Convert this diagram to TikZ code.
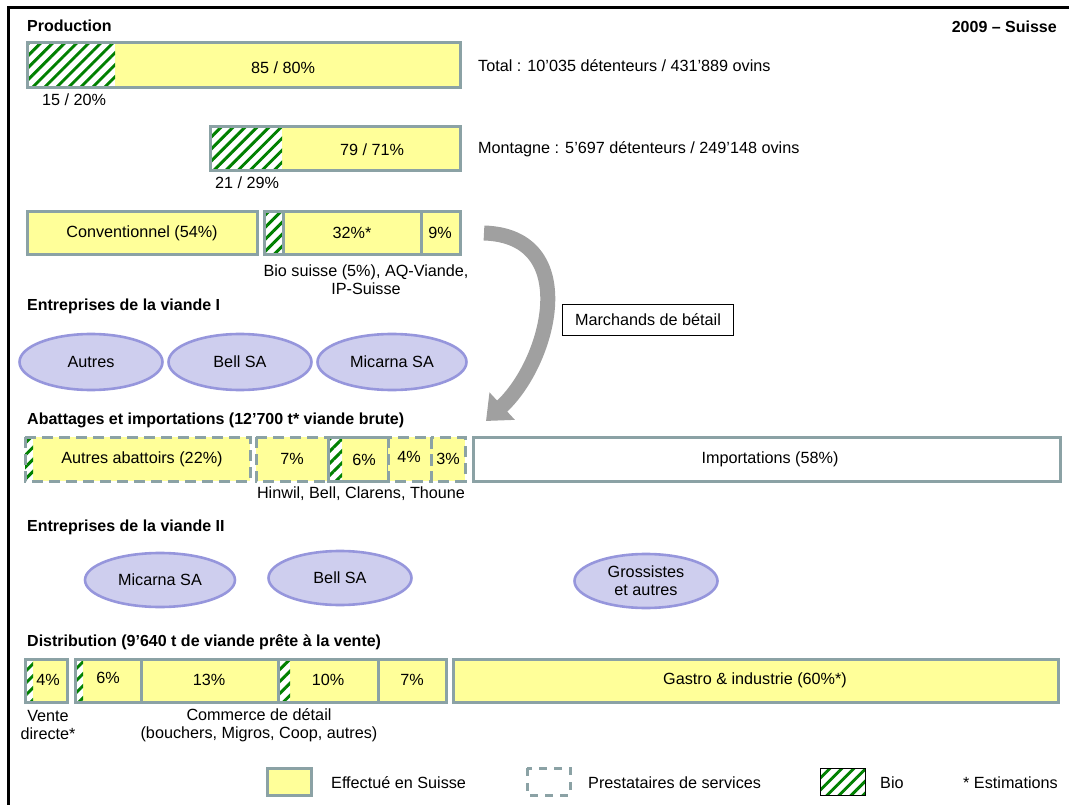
\documentclass[tikz,border=0pt]{standalone}
\usepackage{fontspec}
\setmainfont{Liberation Sans}
\usetikzlibrary{arrows.meta,positioning,shapes.geometric,patterns.meta}
\definecolor{cbar}{RGB}{255,255,153}
\definecolor{cedge}{RGB}{139,162,165}
\definecolor{cbio}{RGB}{0,128,0}
\definecolor{cfirm}{RGB}{206,206,238}
\definecolor{cfirmedge}{RGB}{150,150,220}
\definecolor{carrow}{RGB}{160,160,160}
\tikzset{
  txt/.style={font=\fontsize{16.2}{18}\selectfont, inner sep=0pt},
  head/.style={font=\bfseries\fontsize{16}{18}\selectfont, inner sep=0pt, anchor=west},
  edge/.style={draw=cedge, line width=3pt},
  svc/.style={edge, dash pattern=on 11pt off 6pt},
  bio/.style={fill=white, postaction={pattern={Lines[angle=45,distance=8.5pt,line width=2.9pt]}, pattern color=cbio}},
  firm/.style={ellipse, draw=cfirmedge, fill=cfirm, line width=2.6pt, inner sep=0pt,
    font=\fontsize{16.2}{18}\selectfont, align=center, minimum height=56pt}
}

\begin{document}
\begin{tikzpicture}[x=1pt,y=-1pt]
  \useasboundingbox (0,0) rectangle (1069,805);
  \draw[line width=3pt] (8,805) -- (8,8) -- (1069,8);

  % Production
  \node[head] (hprod) at (27,26) {Production};
  \node[font=\bfseries\fontsize{16}{18}\selectfont, inner sep=0pt, anchor=east] (hyear) at (1057,27) {2009 – Suisse};

  \fill[cbar] (27,43) rectangle (460,88);
  \fill[bio] (27,43) rectangle (115,88);
  \draw[edge] (27,43) rectangle (460,88);
  \node[txt] (totconv) at (283,68) {85 / 80\%};
  \node[txt] (totbio) at (74,100) {15 / 20\%};
  \node[txt, anchor=west] (totinfo) at (478,66) {Total : 10’035 détenteurs / 431’889 ovins};

  \fill[cbar] (210,127) rectangle (460,171);
  \fill[bio] (210,127) rectangle (282,171);
  \draw[edge] (210,127) rectangle (460,171);
  \node[txt] (mtconv) at (372,150) {79 / 71\%};
  \node[txt] (mtbio) at (247,183) {21 / 29\%};
  \node[txt, anchor=west] (mtinfo) at (478,149) {Montagne : 5’697 détenteurs / 249’148 ovins};

  \fill[cbar] (27,212) rectangle (257,255);
  \draw[edge] (27,212) rectangle (257,255);
  \node[txt] (conv) at (142,233) {Conventionnel (54\%)};
  \fill[cbar] (264,212) rectangle (460,255);
  \fill[bio] (264,212) rectangle (283,255);
  \draw[edge] (264,212) rectangle (460,255);
  \draw[edge] (283,212) -- (283,255);
  \draw[edge] (421,212) -- (421,255);
  \node[txt] (label) at (352,233) {32\%*};
  \node[txt] (other) at (440,233) {9\%};
  \node[txt, align=center] (labelnote) at (366,280) {Bio suisse (5\%), AQ-Viande,\\IP-Suisse};

  % Entreprises de la viande I
  \node[head] (hent1) at (27,306) {Entreprises de la viande I};
  \node[firm, minimum width=143pt] (autres1) at (91,362) {Autres};
  \node[firm, minimum width=143pt] (bell1) at (240,362) {Bell SA};
  \node[firm, minimum width=149pt] (micarna1) at (392,362) {Micarna SA};

  \coordinate (arrstart) at (484,233);
  \coordinate (arrend) at (486,421);
  \draw[carrow, line width=15pt, -{Triangle[length=22pt,width=36pt]}]
    (arrstart) .. controls (582,236) and (550,362) .. (arrend);
  \node[draw, line width=1pt, txt, minimum width=171pt, minimum height=31pt] (dealers) at (648,320) {Marchands de bétail};

  % Abattages et importations
  \node[head] (hslaught) at (27,420) {Abattages et importations (12’700 t* viande brute)};
  \fill[cbar] (25,437) rectangle (250,481);
  \fill[bio] (25,437) rectangle (33,481);
  \draw[svc] (25,437) rectangle (250,481);
  \node[txt] (abat) at (142,459) {Autres abattoirs (22\%)};
  \fill[cbar] (256,437) rectangle (328,481);
  \draw[svc] (256,437) rectangle (328,481);
  \node[txt] (hinwil) at (292,459) {7\%};
  \fill[cbar] (328,437) rectangle (388,481);
  \fill[bio] (328,437) rectangle (342,481);
  \draw[edge] (328,437) rectangle (388,481);
  \node[txt] (bell) at (364,460) {6\%};
  \fill[cbar] (388,437) rectangle (465,481);
  \draw[svc] (388,437) rectangle (431,481);
  \draw[svc] (431,437) rectangle (465,481);
  \node[txt] (clarens) at (409,457) {4\%};
  \node[txt] (thoune) at (448,459) {3\%};
  \draw[edge, fill=white] (473,437) rectangle (1060,481);
  \node[txt] (imports) at (770,459) {Importations (58\%)};
  \node[txt] (abatnote) at (361,494) {Hinwil, Bell, Clarens, Thoune};

  % Entreprises de la viande II
  \node[head] (hent2) at (27,527) {Entreprises de la viande II};
  \node[firm, minimum width=150pt, minimum height=54pt] (micarna2) at (160,580) {Micarna SA};
  \node[firm, minimum width=143pt, minimum height=54pt] (bell2) at (340,578) {Bell SA};
  \node[firm, minimum width=143pt, minimum height=54pt] (gross2) at (646,581) {Grossistes\\et autres};

  % Distribution
  \node[head] (hdist) at (27,642) {Distribution (9’640 t de viande prête à la vente)};
  \fill[cbar] (25,659) rectangle (67,702);
  \fill[bio] (25,659) rectangle (33,702);
  \draw[edge] (25,659) rectangle (67,702);
  \node[txt] (direct) at (48,680) {4\%};
  \fill[cbar] (75,659) rectangle (446,702);
  \fill[bio] (75,659) rectangle (83,702);
  \fill[bio] (278,659) rectangle (290,702);
  \draw[edge] (75,659) rectangle (446,702);
  \foreach \xdiv in {141,278,378}
    \draw[edge] (\xdiv,659) -- (\xdiv,702);
  \node[txt] (retaila) at (108,678) {6\%};
  \node[txt] (retailb) at (209,680) {13\%};
  \node[txt] (retailc) at (328,680) {10\%};
  \node[txt] (retaild) at (412,680) {7\%};
  \fill[cbar] (453,659) rectangle (1058,702);
  \draw[edge] (453,659) rectangle (1058,702);
  \node[txt] (gastro) at (755,680) {Gastro \& industrie (60\%*)};
  \node[txt, align=center] (directnote) at (48,725) {Vente\\directe*};
  \node[txt, align=center] (retailnote) at (259,725) {Commerce de détail\\(bouchers, Migros, Coop, autres)};

  % Legende
  \fill[cbar] (267,768) rectangle (311,795);
  \draw[edge] (267,768) rectangle (311,795);
  \node[txt, anchor=west] (legswiss) at (331,783) {Effectué en Suisse};
  \draw[svc, dash pattern=on 8pt off 7pt] (527,768) rectangle (570,795);
  \node[txt, anchor=west] (legsvc) at (588,783) {Prestataires de services};
  \fill[bio] (820,768) rectangle (865,795);
  \draw[line width=1pt] (820,768) rectangle (865,795);
  \node[txt, anchor=west] (legbio) at (880,783) {Bio};
  \node[txt, anchor=west] (legest) at (963,783) {* Estimations};
\end{tikzpicture}
\end{document}
